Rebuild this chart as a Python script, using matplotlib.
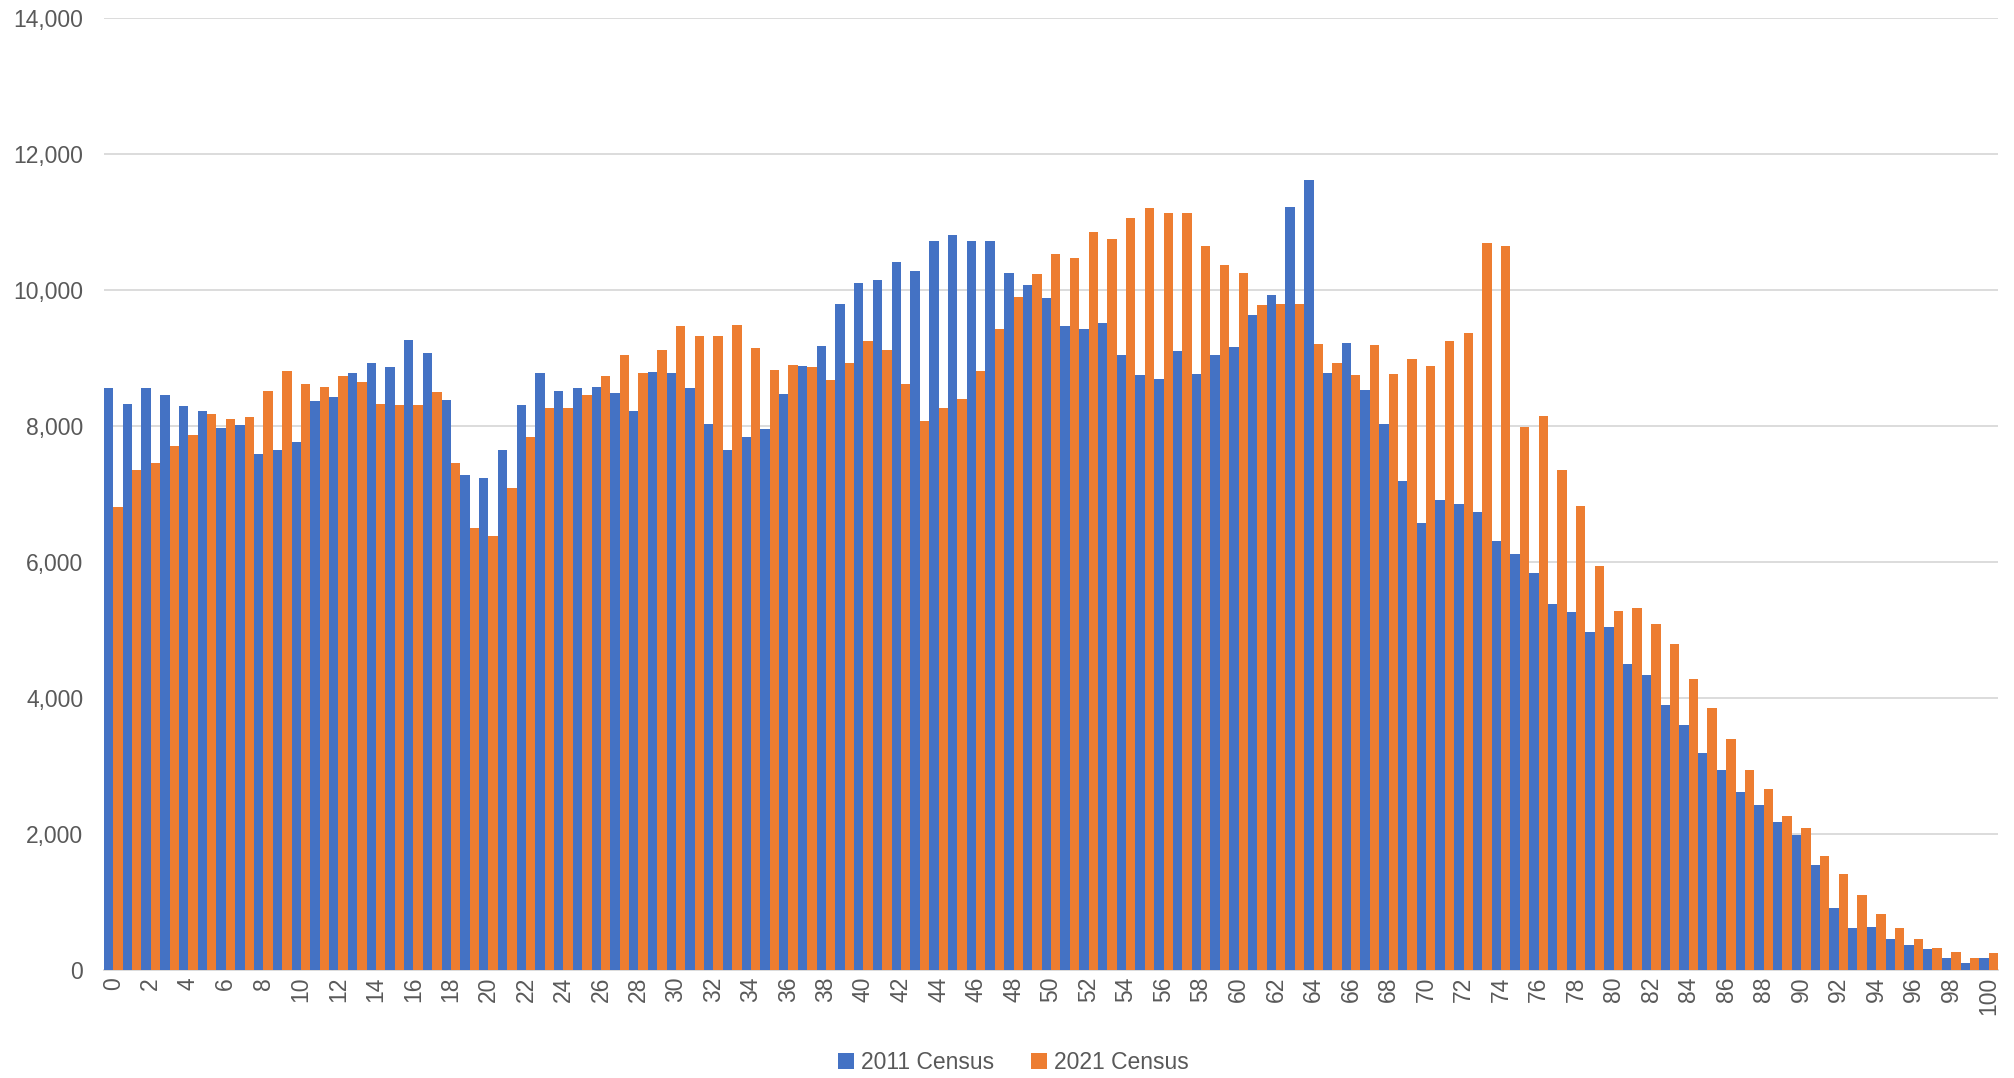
import matplotlib
matplotlib.use("Agg")
import matplotlib.pyplot as plt
import numpy as np

plt.rcParams['font.family'] = ['Liberation Sans', 'DejaVu Sans']

ages = list(range(101))
census_2011 = [8560, 8320, 8550, 8450, 8290, 8220, 7970, 8010, 7580, 7640,
               7760, 8370, 8420, 8770, 8920, 8870, 9260, 9070, 8380, 7270,
               7240, 7640, 8300, 8770, 8510, 8550, 8570, 8480, 8220, 8790,
               8780, 8560, 8030, 7650, 7830, 7950, 8470, 8880, 9180, 9790,
               10100, 10150, 10410, 10270, 10710, 10810, 10720, 10720, 10240, 10070,
               9880, 9460, 9430, 9510, 9040, 8740, 8690, 9100, 8760, 9040,
               9160, 9630, 9930, 11210, 11620, 8770, 9220, 8530, 8030, 7190,
               6570, 6910, 6850, 6730, 6310, 6120, 5840, 5380, 5270, 4970,
               5040, 4500, 4340, 3890, 3600, 3190, 2940, 2620, 2420, 2180,
               1980, 1540, 910, 620, 630, 450, 360, 310, 170, 100,
               180]
census_2021 = [6810, 7350, 7460, 7700, 7860, 8180, 8100, 8130, 8510, 8800,
               8610, 8570, 8730, 8650, 8320, 8300, 8300, 8490, 7450, 6500,
               6380, 7090, 7830, 8260, 8260, 8450, 8730, 9040, 8770, 9120,
               9470, 9320, 9320, 9480, 9150, 8820, 8900, 8870, 8670, 8920,
               9240, 9110, 8610, 8070, 8260, 8400, 8800, 9430, 9900, 10230,
               10530, 10460, 10850, 10750, 11050, 11200, 11130, 11130, 10640, 10360,
               10250, 9780, 9790, 9790, 9200, 8920, 8750, 9190, 8760, 8980,
               8880, 9250, 9370, 10690, 10650, 7980, 8150, 7350, 6820, 5940,
               5280, 5320, 5090, 4790, 4280, 3850, 3400, 2940, 2660, 2260,
               2080, 1680, 1410, 1100, 830, 620, 460, 330, 260, 170,
               250]
series_names = ["2011 Census", "2021 Census"]

fig = plt.figure(figsize=(20.15, 10.78), dpi=100)
ax = fig.add_axes([0.0516, 0.1002, 0.94, 0.8834])

x = np.arange(len(ages))
w = 0.5
ax.bar(x - w / 2, census_2011, w, color='#4472C4', label=series_names[0], zorder=3)
ax.bar(x + w / 2, census_2021, w, color='#ED7D31', label=series_names[1], zorder=3)

ax.set_xlim(-0.5, len(ages) - 0.5)
ax.set_ylim(0, 14000)
ax.set_yticks(range(0, 14001, 2000))
ax.set_yticklabels([f"{v:,}" for v in range(0, 14001, 2000)])
ax.set_xticks(x[::2])
ax.set_xticklabels([str(a) for a in ages[::2]], rotation=90)

ax.grid(axis='y', color='#d9d9d9', linewidth=1.3, zorder=0)
for s in ['top', 'right', 'left']:
    ax.spines[s].set_visible(False)
ax.spines['bottom'].set_color('#d9d9d9')
ax.spines['bottom'].set_linewidth(1.3)
ax.tick_params(axis='both', length=0, labelsize=16.5, colors='#595959')
ax.tick_params(axis='y', pad=15)
ax.tick_params(axis='x', pad=5)

# legend centred on the figure, like Excel
fig.legend(loc='center', bbox_to_anchor=(0.503, 0.014), ncol=2, frameon=False,
           fontsize=16.5, labelcolor='#595959', handlelength=0.7, handleheight=0.7,
           handletextpad=0.3, columnspacing=1.6)

fig.savefig("out.png", dpi=100)
